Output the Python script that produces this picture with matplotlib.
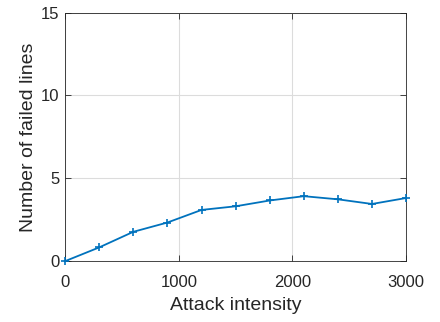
import matplotlib
matplotlib.use("Agg")
import matplotlib.pyplot as plt

x_values = [0, 300, 600, 900, 1200, 1500, 1800, 2100, 2400, 2700, 3000]
failed_lines = [0, 0.83, 1.77, 2.33, 3.09, 3.31, 3.66, 3.92, 3.73, 3.45, 3.81]
x_ticks = [0, 1000, 2000, 3000]
y_ticks = [0, 5, 10, 15]

plt.rcParams['font.family'] = ['Liberation Sans', 'DejaVu Sans']

fig = plt.figure(figsize=(4.4, 3.22), dpi=100)
ax = fig.add_axes([0.148, 0.189, 0.775, 0.772])
ax.plot(x_values, failed_lines, color='#0072BD', marker='+', markersize=6,
        markeredgewidth=1.2, linewidth=1.3, clip_on=False, zorder=3)
ax.set_xlim(0, 3000)
ax.set_ylim(0, 15)
ax.set_xticks(x_ticks)
ax.set_yticks(y_ticks)
ax.grid(True, color='#DCDCDC', linewidth=0.8)
ax.set_axisbelow(True)
ax.tick_params(direction='in', length=4, width=0.6, colors='#262626',
               labelsize=12, top=True, right=True)
ax.tick_params(axis='x', pad=10)
ax.tick_params(axis='y', pad=4)
for s in ax.spines.values():
    s.set_color('#262626')
    s.set_linewidth(0.6)
ax.set_xlabel('Attack intensity', fontsize=14, color='#262626', labelpad=5)
ax.set_ylabel('Number of failed lines', fontsize=14, color='#262626', labelpad=3)
fig.savefig('out.png', dpi=100)
